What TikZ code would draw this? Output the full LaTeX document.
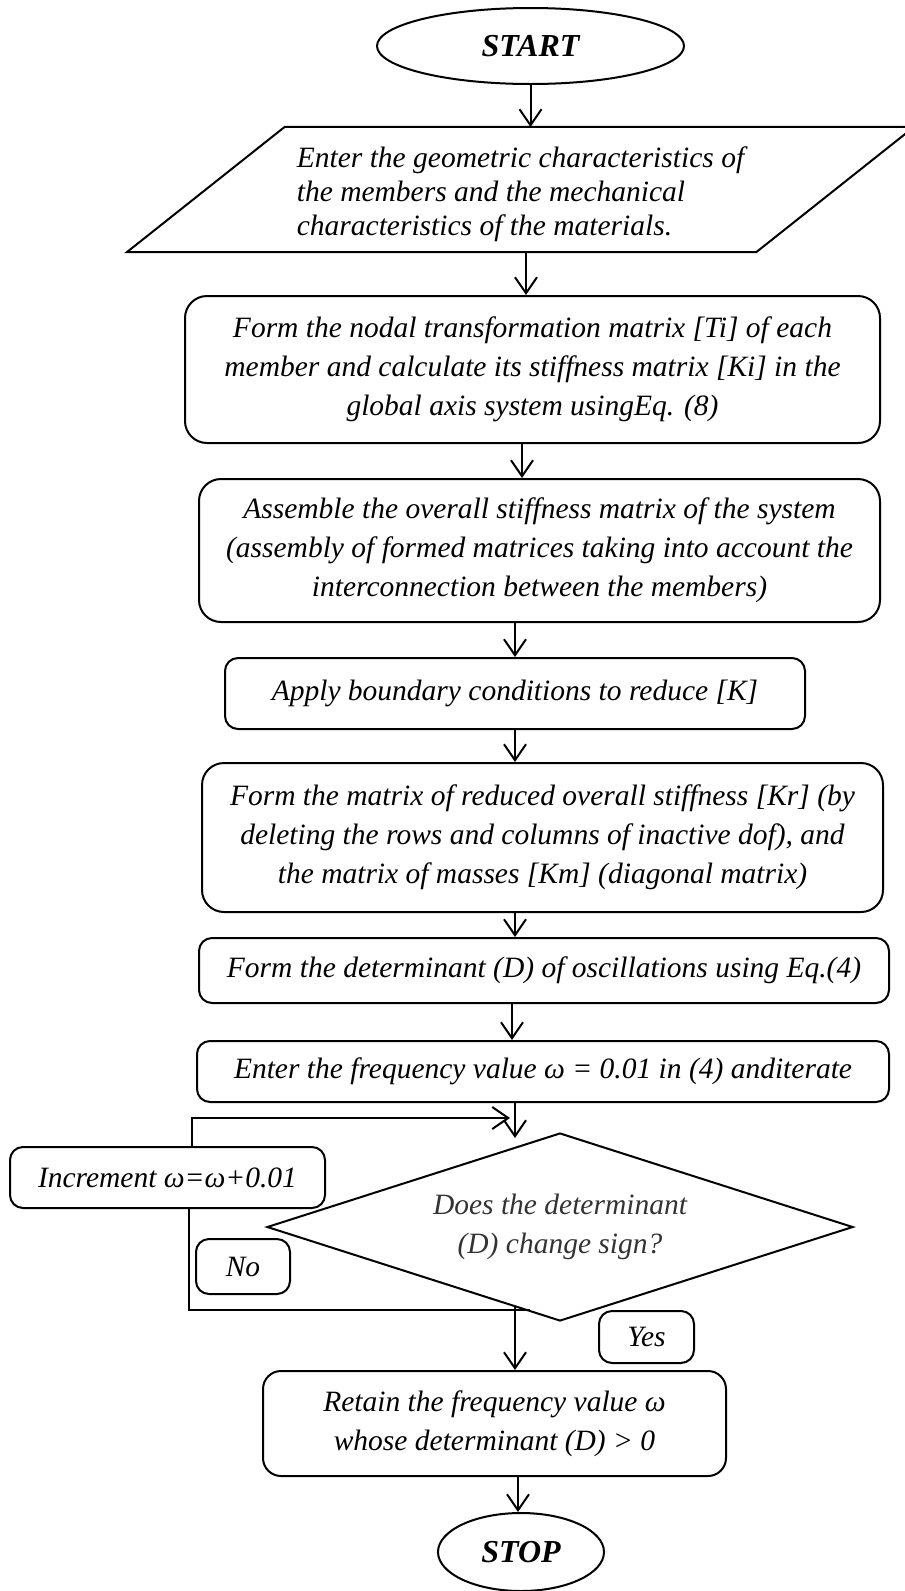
\documentclass[tikz,border=0pt]{standalone}
\usepackage{fontspec}
\setmainfont{Liberation Serif}
\usetikzlibrary{shapes.geometric,arrows.meta}
\begin{document}
\begin{tikzpicture}[x=1pt,y=-1pt,
  line/.style={line width=2pt},
  arr/.style={line width=2pt,-{Straight Barb[length=16pt,width=22pt,line width=2pt]}},
  txt/.style={font=\itshape\fontsize{29.5}{39}\selectfont,align=center,inner sep=0pt},
  box/.style={txt,draw,line width=2pt,rounded corners=#1},
  box/.default=13pt,
  term/.style={ellipse,draw,line width=2pt,inner sep=0pt,font=\bfseries\itshape\fontsize{32}{34}\selectfont}
]
\useasboundingbox (0,0) rectangle (905,1591);

\node[term,minimum width=307pt,minimum height=76pt] (start) at (530.5,46) {START};

\node[txt,align=left,font=\itshape\fontsize{29.5}{34}\selectfont,minimum width=787pt,minimum height=125pt] (par) at (520.5,194.5)
  {Enter the geometric characteristics of\\the members and the mechanical\\characteristics of the materials.};
\draw[line] ([yshift=5pt]par.south west) -- ([xshift=158pt,yshift=5pt]par.north west) -- ([yshift=5pt]par.north east) -- ([xshift=-158pt,yshift=5pt]par.south east) -- cycle;

\node[box=22pt,minimum width=695pt,minimum height=147pt] (b1) at (532.5,369.5)
  {Form the nodal transformation matrix [Ti] of each\\member and calculate its stiffness matrix [Ki] in the\\global axis system usingEq. (8)};
\node[box=22pt,minimum width=681pt,minimum height=143pt] (b2) at (539.5,550.5)
  {Assemble the overall stiffness matrix of the system\\(assembly of formed matrices taking into account the\\interconnection between the members)};
\node[box,minimum width=580pt,minimum height=71pt] (b3) at (515,693.5)
  {Apply boundary conditions to reduce [K]};
\node[box=22pt,minimum width=681pt,minimum height=149pt] (b4) at (542.5,837.5)
  {Form the matrix of reduced overall stiffness [Kr] (by\\deleting the rows and columns of inactive dof), and\\the matrix of masses [Km] (diagonal matrix)};
\node[box,minimum width=690pt,minimum height=65pt] (b5) at (544,970.5)
  {Form the determinant (D) of oscillations using Eq.(4)};
\node[box,minimum width=692pt,minimum height=61pt] (b6) at (543,1071.5)
  {Enter the frequency value ω = 0.01 in (4) anditerate};
\node[box,minimum width=315pt,minimum height=61pt] (inc) at (167.5,1177.5)
  {Increment ω=ω+0.01};
\node[txt,diamond,draw,line width=2pt,aspect=3.1,minimum width=586pt,minimum height=188pt,text=black!80] (dec) at (560,1227)
  {Does the determinant\\(D) change sign?};
\node[box,minimum width=94pt,minimum height=55pt] (no) at (243,1266.5) {No};
\node[box,minimum width=95pt,minimum height=52pt] (yes) at (646.5,1337) {Yes};
\node[box=18pt,minimum width=463pt,minimum height=105pt] (ret) at (494.5,1423.5)
  {Retain the frequency value ω\\whose determinant (D) > 0};
\node[term,minimum width=166pt,minimum height=78pt] (stop) at (521,1552) {STOP};

\coordinate (noend) at (530,1310);

\draw[arr] (start.south) -- (530.5,127);
\draw[arr] (526,252) -- (b1.north -| 526,0);
\draw[arr] (b1.south -| 522,0) -- (b2.north -| 522,0);
\draw[arr] (b2.south -| 515,0) -- (b3.north -| 515,0);
\draw[arr] (b3.south -| 515,0) -- (b4.north -| 515,0);
\draw[arr] (b4.south -| 515,0) -- (b5.north -| 515,0);
\draw[arr] (b5.south -| 512,0) -- (b6.north -| 512,0);
\draw[arr] (b6.south -| 515,0) -- (515,1138);
\draw[arr] (inc.north -| 192,0) -- (192,1118) -- (510,1118);
\draw[line] (inc.south -| 189,0) -- (189,1310) -- (noend);
\draw[arr] (515,1307) -- (ret.north -| 515,0);
\draw[arr] (ret.south -| 518,0) -- (stop.north -| 518,0);
\end{tikzpicture}
\end{document}
